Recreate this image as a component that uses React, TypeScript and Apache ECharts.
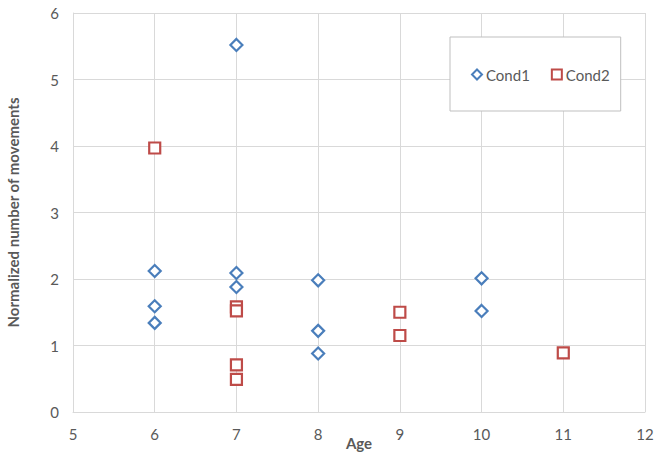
import React, { useEffect, useRef } from "react";
import * as echarts from "echarts";

const cond1Age = [6, 6, 6, 7, 7, 7, 8, 8, 8, 10, 10];
const cond1Val = [2.12, 1.59, 1.34, 5.52, 2.09, 1.88, 1.98, 1.22, 0.88, 2.01, 1.52];
const cond2Age = [6, 7, 7, 7, 7, 9, 9, 11];
const cond2Val = [3.97, 1.58, 1.52, 0.71, 0.49, 1.5, 1.15, 0.89];

const BLUE = "#4A7EBB";
const RED = "#BE4B48";
const FONT = "Lato, 'Open Sans', sans-serif";
const TXT = "#595959";
const GRID = "#D9D9D9";

export default function App() {
  const ref = useRef<HTMLDivElement>(null);
  useEffect(() => {
    if (!ref.current) return;
    const chart = echarts.init(ref.current, null, { renderer: "svg" });
    chart.setOption({
      animation: false,
      backgroundColor: "#fff",
      textStyle: { fontFamily: FONT },
      grid: { left: 73, top: 13, right: 16, bottom: 44, containLabel: false, outerBoundsMode: "none" },
      xAxis: {
        type: "value",
        min: 5,
        max: 12,
        interval: 1,
        name: "Age",
        nameLocation: "middle",
        nameGap: 23,
        nameMoveOverlap: false,
        nameTextStyle: { color: TXT, fontSize: 15, fontWeight: "bold", fontFamily: FONT },
        axisLine: { show: true, lineStyle: { color: GRID, width: 1 } },
        axisTick: { show: false },
        axisLabel: { color: TXT, fontSize: 15, margin: 14, fontFamily: FONT },
        splitLine: { show: true, lineStyle: { color: GRID, width: 1 } },
      },
      yAxis: {
        type: "value",
        min: 0,
        max: 6,
        interval: 1,
        name: "Normalized number of movements",
        nameLocation: "middle",
        nameGap: 53,
        nameMoveOverlap: false,
        nameTextStyle: { color: TXT, fontSize: 15, fontWeight: "bold", fontFamily: FONT },
        axisLine: { show: true, lineStyle: { color: GRID, width: 1 } },
        axisTick: { show: false },
        axisLabel: { color: TXT, fontSize: 15, margin: 14, fontFamily: FONT },
        splitLine: { show: true, lineStyle: { color: GRID, width: 1 } },
      },
      legend: {
        left: 450,
        top: 37,
        padding: [30, 11, 29, 21],
        backgroundColor: "#fff",
        borderColor: "#BFBFBF",
        borderWidth: 1,
        itemGap: 21,
        itemWidth: 10,
        itemHeight: 10,
        textStyle: { color: TXT, fontSize: 15, fontFamily: FONT, padding: [0, 0, 0, -1] },
        data: [
          { name: "Cond1", icon: "diamond", itemStyle: { color: "#fff", borderColor: BLUE, borderWidth: 2 } },
          { name: "Cond2", icon: "rect", itemStyle: { color: "#fff", borderColor: RED, borderWidth: 2 } },
        ],
      },
      series: [
        {
          name: "Cond1",
          type: "scatter",
          symbol: "diamond",
          symbolSize: 12,
          itemStyle: { color: "#fff", borderColor: BLUE, borderWidth: 2.2, opacity: 1 },
          data: cond1Age.map((a, i) => [a, cond1Val[i]]),
        },
        {
          name: "Cond2",
          type: "scatter",
          symbol: "rect",
          symbolSize: 11,
          itemStyle: { color: "#fff", borderColor: RED, borderWidth: 2.2, opacity: 1 },
          data: cond2Age.map((a, i) => [a, cond2Val[i]]),
        },
      ],
    });
    return () => chart.dispose();
  }, []);
  return <div ref={ref} style={{ width: 661, height: 456, position: "absolute", left: 0, top: 0 }} />;
}
